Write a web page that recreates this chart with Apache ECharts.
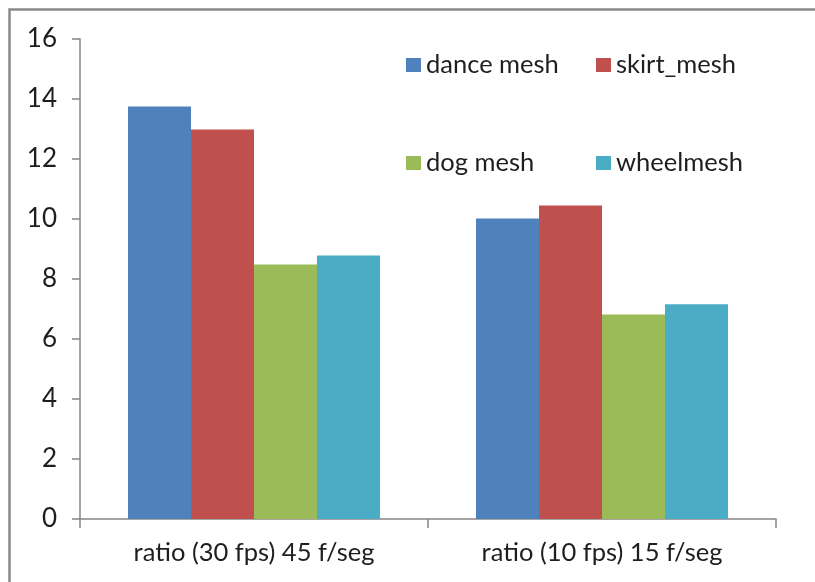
<!DOCTYPE html>
<html>
<head>
<meta charset="utf-8">
<style>
  html, body { margin: 0; padding: 0; background: #ffffff; overflow: hidden; }
  #chart { width: 815px; height: 582px; }
</style>
<script src="https://cdn.jsdelivr.net/npm/echarts@6/dist/echarts.min.js"></script>
</head>
<body>
<div id="chart"></div>
<script>
// Categories on the x axis
const categories = ['ratio (30 fps) 45 f/seg', 'ratio (10 fps) 15 f/seg'];

// Series names and values
const seriesNames = ['dance mesh', 'skirt_mesh', 'dog mesh', 'wheelmesh'];
const danceMesh = [13.75, 10.02];
const skirtMesh = [12.98, 10.45];
const dogMesh = [8.48, 6.82];
const wheelMesh = [8.78, 7.16];

// Y axis range and step
const yMin = 0;
const yMax = 16;
const yStep = 2;

const seriesValues = [danceMesh, skirtMesh, dogMesh, wheelMesh];
const colors = ['#4F81BD', '#C0504D', '#9BBB59', '#4BACC6'];

const FONT = 'Lato, "Open Sans", sans-serif';
const TEXT_COLOR = '#1e1e1e';
const AXIS_COLOR = '#868686';

// Legend laid out as a 2x2 block, one component per entry
const legendSpots = [
  { left: 406, top: 51 },
  { left: 596, top: 51 },
  { left: 406, top: 149 },
  { left: 596, top: 149 }
];

const chart = echarts.init(document.getElementById('chart'), null, { renderer: 'canvas' });

const option = {
  backgroundColor: '#ffffff',
  animation: false,
  color: colors,
  textStyle: { fontFamily: FONT },
  graphic: [{
    type: 'rect',
    z: -10,
    silent: true,
    shape: { x: 9.5, y: 9.5, width: 2000, height: 2000 },
    style: { fill: 'none', stroke: '#8a8a8a', lineWidth: 2.5 }
  }],
  legend: seriesNames.map((name, i) => ({
    data: [name],
    left: legendSpots[i].left,
    top: legendSpots[i].top,
    padding: 0,
    icon: 'rect',
    itemWidth: 15,
    itemHeight: 14,
    selectedMode: false,
    textStyle: {
      fontFamily: FONT,
      fontSize: 25.5,
      lineHeight: 28,
      color: TEXT_COLOR
    }
  })),
  grid: {
    left: 80,
    right: 39,
    top: 39,
    bottom: 63,
    containLabel: false
  },
  xAxis: {
    type: 'category',
    data: categories,
    axisLine: { show: true, lineStyle: { color: AXIS_COLOR, width: 1.5 } },
    axisTick: { show: true, length: 9, alignWithLabel: false, lineStyle: { color: AXIS_COLOR, width: 1.5 } },
    axisLabel: {
      margin: 21,
      fontFamily: FONT,
      fontSize: 25.5,
      color: TEXT_COLOR
    },
    splitLine: { show: false }
  },
  yAxis: {
    type: 'value',
    min: yMin,
    max: yMax,
    interval: yStep,
    axisLine: { show: true, lineStyle: { color: AXIS_COLOR, width: 1.5 } },
    axisTick: { show: true, length: 8, lineStyle: { color: AXIS_COLOR, width: 1.5 } },
    axisLabel: {
      margin: 23,
      fontFamily: FONT,
      fontSize: 26,
      color: TEXT_COLOR
    },
    splitLine: { show: false }
  },
  series: seriesNames.map((name, i) => ({
    name: name,
    type: 'bar',
    data: seriesValues[i],
    barGap: '0%',
    barCategoryGap: '27.6%',
    itemStyle: { color: colors[i] }
  }))
};

chart.setOption(option);
</script>
</body>
</html>
